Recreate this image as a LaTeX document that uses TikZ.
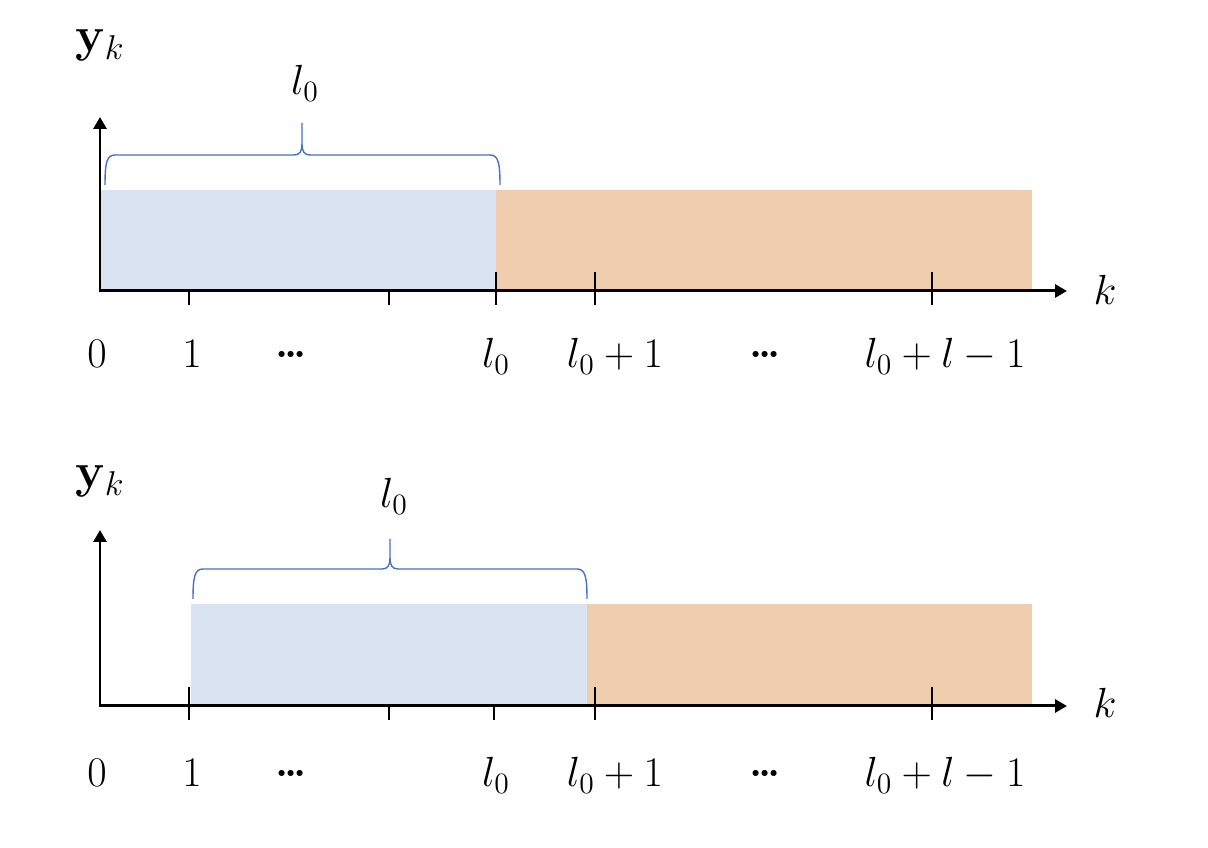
\RequirePackage{fix-cm}
\documentclass[tikz,border=0pt]{standalone}
\usepackage{amsmath}
\usetikzlibrary{arrows.meta}
\definecolor{firstpart}{RGB}{218,227,241}
\definecolor{secondpart}{RGB}{241,205,176}
\definecolor{bracecol}{RGB}{68,114,196}
\newcommand{\midots}{\raisebox{0.26em}{\bfseries.\kern-0.1em.\kern-0.1em.}}

\begin{document}
\begin{tikzpicture}[
    x=0.02cm, y=0.02cm,
    font=\fontsize{24}{28}\selectfont,
    axis/.style={line width=1.7pt,
        {Triangle[length=0.24cm, width=0.26cm]}-{Triangle[length=0.24cm, width=0.26cm]}},
    tickmark/.style={line width=0.7pt},
    span/.style={draw=bracecol, line width=0.8pt},
    lab/.style={anchor=base, inner sep=0pt},
    ylab/.style={lab, font=\fontsize{28}{32}\selectfont}
]
\useasboundingbox (0,0) rectangle (1208,848);

% Upper panel: window starts at 0
\fill[firstpart]  (100,557) rectangle (496,658);
\fill[secondpart] (496,557) rectangle (1032,658);
\coordinate (Ytop) at (100,731);
\coordinate (Otop) at (100,557);
\coordinate (Xtop) at (1067,557);
\draw[axis] (Ytop) -- (Otop) -- (Xtop);
\foreach \x in {189,389}
    \draw[tickmark] (\x,543) -- (\x,557);
\foreach \x in {496,595,932}
    \draw[tickmark] (\x,543) -- (\x,576);
\draw[span] (105,663) .. controls (105,686) and (107,693) .. (115,693) -- (294,693)
    .. controls (300,693) and (302,697) .. (302,704) -- (302,725) -- (302,704)
    .. controls (302,697) and (304,693) .. (310,693) -- (490,693)
    .. controls (498,693) and (500,686) .. (500,663);
\node[ylab] (ytop) at (100,796) {$\mathbf{y}_k$};
\node[lab] (ltop) at (305,753) {$l_0$};
\node[lab] (ktop) at (1105,543) {$k$};

% Lower panel: window starts at 1
\fill[firstpart]  (191,142) rectangle (587,244);
\fill[secondpart] (587,142) rectangle (1032,244);
\coordinate (Ybot) at (100,318);
\coordinate (Obot) at (100,142);
\coordinate (Xbot) at (1067,142);
\draw[axis] (Ybot) -- (Obot) -- (Xbot);
\foreach \x in {389,494}
    \draw[tickmark] (\x,128) -- (\x,142);
\foreach \x in {189,595,932}
    \draw[tickmark] (\x,128) -- (\x,161);
\draw[span] (193,249) .. controls (193,272) and (195,279) .. (203,279) -- (382,279)
    .. controls (388,279) and (390,283) .. (390,290) -- (390,309) -- (390,290)
    .. controls (390,283) and (392,279) .. (398,279) -- (577,279)
    .. controls (585,279) and (587,272) .. (587,249);
\node[ylab] (ybot) at (100,360) {$\mathbf{y}_k$};
\node[lab] (lbot) at (394,340) {$l_0$};
\node[lab] (kbot) at (1105,130) {$k$};

% Index labels under both axes
\foreach \row/\yb in {top/480,bot/61}{
    \foreach \n/\x/\t in {a/97/$0$, b/192/$1$, c/291/\midots, d/496/$l_0$,
                          e/615/$l_0+1$, f/765/\midots, g/945/$l_0+l-1$}
        \node[lab] (\row\n) at (\x,\yb) {\t};
}

\end{tikzpicture}
\end{document}
